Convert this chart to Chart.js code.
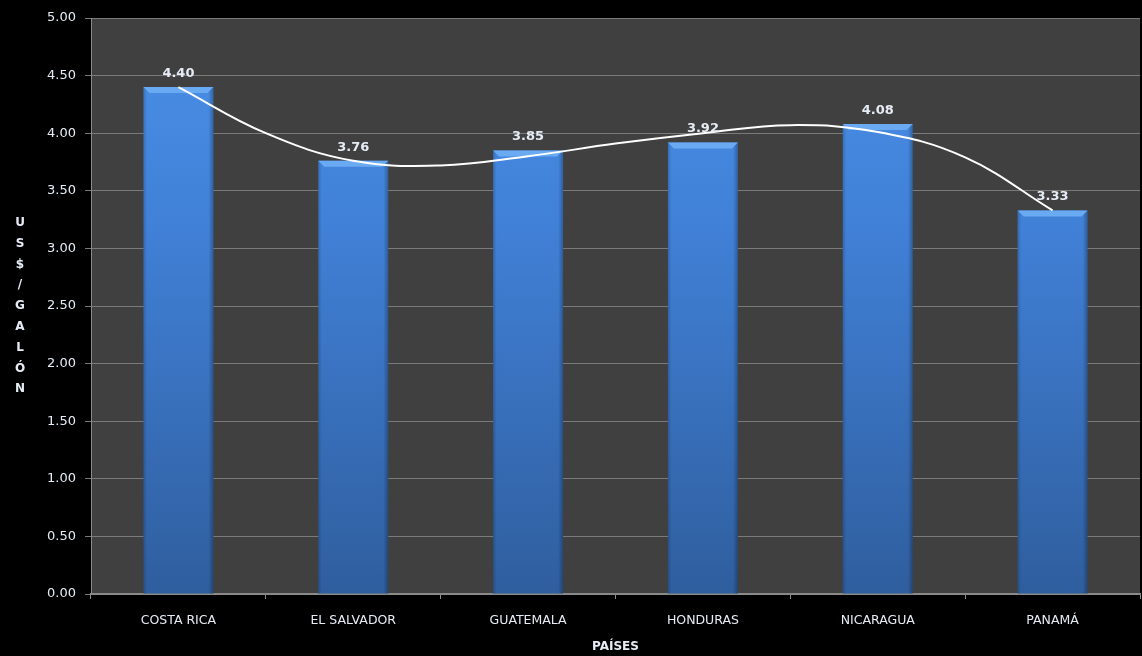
<!DOCTYPE html>
<html><head><meta charset="utf-8">
<script src="https://cdn.jsdelivr.net/npm/chart.js@4.4.1/dist/chart.umd.min.js"></script>
<style>html,body{margin:0;padding:0;background:#000;}#wrap{width:1142px;height:656px;position:relative;}</style>
</head><body><div id="wrap"><canvas id="c"></canvas></div>
<script>
const categories = ["COSTA RICA", "EL SALVADOR", "GUATEMALA", "HONDURAS", "NICARAGUA", "PANAMÁ"];
const values = [4.40, 3.76, 3.85, 3.92, 4.08, 3.33];
const trendX = [0, 0.5, 1, 1.5, 2, 2.5, 3, 3.5, 4, 4.5, 5];
const trendY = [4.40, 4.00, 3.76, 3.72, 3.80, 3.91, 4.00, 4.07, 4.01, 3.79, 3.33];
const yMin = 0, yMax = 5, yStep = 0.5;
const yTitle = "US$/GALÓN";
const xTitle = "PAÍSES";

const FONT = "'DejaVu Sans', Verdana, sans-serif";
const TEXT = '#e6ecf5';

const bgPlugin = {
  id: 'bg',
  beforeDraw(chart) {
    const {ctx, chartArea: a} = chart;
    ctx.save();
    ctx.fillStyle = '#000';
    ctx.fillRect(0, 0, chart.width, chart.height);
    ctx.fillStyle = '#404040';
    ctx.fillRect(a.left, a.top, a.right - a.left, a.bottom - a.top);
    ctx.restore();
  }
};

const barCapPlugin = {
  id: 'barcap',
  afterDatasetDraw(chart, args) {
    if (args.index !== 1) return;
    const {ctx} = chart;
    const meta = chart.getDatasetMeta(1);
    ctx.save();
    meta.data.forEach(bar => {
      const {x, y, width, base} = bar.getProps(['x', 'y', 'width', 'base'], true);
      const l = x - width / 2, r = x + width / 2;
      const g = ctx.createLinearGradient(l, 0, r, 0);
      g.addColorStop(0, 'rgba(0,0,0,0.18)');
      g.addColorStop(0.05, 'rgba(0,0,0,0)');
      g.addColorStop(0.93, 'rgba(0,0,0,0)');
      g.addColorStop(1, 'rgba(0,0,0,0.28)');
      ctx.fillStyle = g;
      ctx.fillRect(l, y, width, base - y);
      ctx.beginPath();
      ctx.moveTo(l, y);
      ctx.lineTo(r, y);
      ctx.lineTo(r - 6, y + 6);
      ctx.lineTo(l + 6, y + 6);
      ctx.closePath();
      ctx.fillStyle = '#6aaaf2';
      ctx.fill();
    });
    ctx.restore();
  }
};

const labelPlugin = {
  id: 'labels',
  afterDatasetsDraw(chart) {
    const {ctx} = chart;
    const meta = chart.getDatasetMeta(1);
    ctx.save();
    ctx.font = "bold 13px " + FONT;
    ctx.fillStyle = TEXT;
    ctx.textAlign = 'center';
    ctx.textBaseline = 'alphabetic';
    meta.data.forEach((bar, i) => {
      ctx.fillText(values[i].toFixed(2), bar.x, bar.y - 10);
    });
    ctx.font = "bold 12px " + FONT;
    const letters = Array.from(yTitle);
    const yScale = chart.scales.y;
    const mid = (yScale.top + yScale.bottom) / 2;
    const sp = 20.8;
    const start = mid - (letters.length - 1) * sp / 2;
    ctx.textBaseline = 'middle';
    letters.forEach((ch, i) => ctx.fillText(ch, 20, start + i * sp));
    const a = chart.chartArea;
    ctx.fillText(xTitle, (a.left + a.right) / 2, 647);
    ctx.restore();
  }
};

new Chart(document.getElementById('c'), {
  data: {
    labels: categories,
    datasets: [
      {
        type: 'line',
        data: trendX.map((x, i) => ({x: x, y: trendY[i]})),
        xAxisID: 'xt',
        borderColor: '#ffffff',
        borderWidth: 2,
        pointRadius: 0,
        tension: 0.4,
        fill: false,
        order: 0
      },
      {
        type: 'bar',
        data: values,
        xAxisID: 'x',
        grouped: false,
        barPercentage: 0.4,
        categoryPercentage: 1,
        order: 1,
        backgroundColor(ctx) {
          const a = ctx.chart.chartArea;
          if (!a) return '#3f80d6';
          const g = ctx.chart.ctx.createLinearGradient(0, a.top, 0, a.bottom);
          g.addColorStop(0, '#4a90e6');
          g.addColorStop(0.35, '#4181d8');
          g.addColorStop(1, '#2f5e9e');
          return g;
        }
      }
    ]
  },
  options: {
    responsive: true,
    maintainAspectRatio: false,
    animation: false,
    devicePixelRatio: 1,
    layout: {padding: {left: 0, right: 2, top: 18, bottom: 0}},
    plugins: {legend: {display: false}, tooltip: {enabled: false}},
    scales: {
      x: {
        type: 'category',
        offset: true,
        border: {color: '#8a8a8a', width: 2},
        grid: {offset: true, drawOnChartArea: false, drawTicks: true, tickLength: 5, color: '#8a8a8a'},
        ticks: {color: TEXT, font: {family: FONT, size: 12.5}, padding: 14, maxRotation: 0, autoSkip: false},
        afterFit(s) { s.height = 62; }
      },
      xt: {
        type: 'linear',
        display: false,
        min: -0.5,
        max: 5.5
      },
      y: {
        min: yMin,
        max: yMax,
        border: {color: '#8a8a8a', width: 1},
        grid: {color: '#7a7a7a', tickLength: 6, lineWidth: 1},
        ticks: {
          stepSize: yStep,
          color: TEXT,
          font: {family: FONT, size: 13},
          padding: 9,
          callback: v => Number(v).toFixed(2)
        },
        afterFit(s) { s.width = 91; }
      }
    }
  },
  plugins: [bgPlugin, barCapPlugin, labelPlugin]
});
</script>
</body></html>
